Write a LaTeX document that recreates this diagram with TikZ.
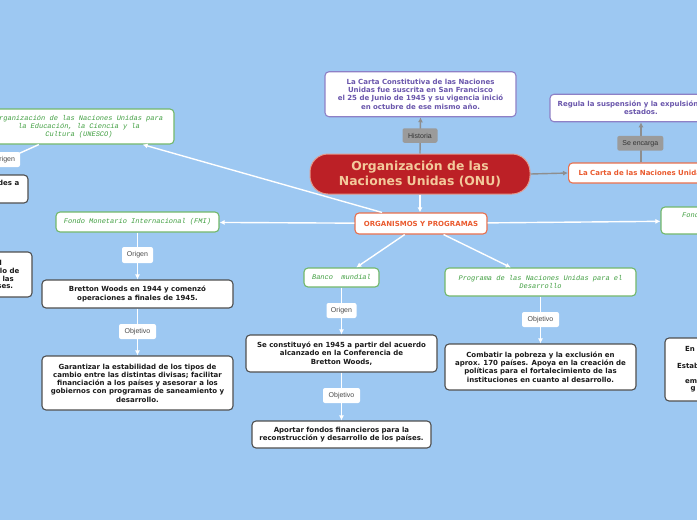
\documentclass[tikz,border=0pt]{standalone}
\usepackage{fontspec}
\setmainfont{DejaVu Sans}
\newfontfamily\gmono{Liberation Mono}
\newfontfamily\labfont{Liberation Sans}
\usetikzlibrary{arrows.meta,calc}
\definecolor{bg}{HTML}{9DC8F2}
\definecolor{onured}{HTML}{BC2026}
\definecolor{onutext}{HTML}{F3C99B}
\definecolor{onuborder}{HTML}{E39A8C}
\definecolor{purpleborder}{HTML}{8E80C6}
\definecolor{purpletext}{HTML}{6A56AC}
\definecolor{orangeborder}{HTML}{E8704D}
\definecolor{orangetext}{HTML}{EA5A2E}
\definecolor{greenborder}{HTML}{72B86B}
\definecolor{greentext}{HTML}{3F9E3F}
\definecolor{darkborder}{HTML}{4F4F4F}
\definecolor{graylab}{HTML}{9B9B9B}
\definecolor{grayline}{HTML}{8E8E8E}
\definecolor{bodytext}{HTML}{1A1A1A}
\tikzset{
 mmbox/.style={draw=darkborder, line width=1.1pt, fill=white, rounded corners=4pt, inner sep=0pt, align=center, font=\fontsize{7}{8.3}\selectfont\bfseries, text=bodytext},
 mmfrag/.style={inner sep=0pt, font=\fontsize{7}{8.3}\selectfont\bfseries, text=bodytext},
 mmgbox/.style={draw=greenborder, line width=1.1pt, fill=white, rounded corners=4pt, inner sep=0pt, align=center, font=\gmono\itshape\fontsize{7}{7.8}\selectfont, text=greentext},
 mmpbox/.style={mmbox, draw=purpleborder, text=purpletext},
 mmobox/.style={mmbox, draw=orangeborder, text=orangetext},
 mmwlab/.style={fill=white, rounded corners=2pt, inner sep=0pt, font=\labfont\fontsize{7}{8}\selectfont, text=black!70},
 mmglab/.style={fill=graylab, rounded corners=2pt, inner sep=0pt, font=\labfont\fontsize{7}{8}\selectfont, text=black!80},
 mmwline/.style={draw=white, line width=1.4pt, -{Latex[length=5pt,width=5pt]}},
 mmgline/.style={draw=grayline, line width=1.4pt, -{Latex[length=5pt,width=5pt]}},
}
\begin{document}
\begin{tikzpicture}[x=1pt,y=-1pt]
\useasboundingbox (0,0) rectangle (697,520);
\clip (0,0) rectangle (697,520);
\fill[bg] (0,0) rectangle (697,520);

% main nodes
\node[draw=onuborder, line width=1pt, fill=onured, rounded corners=18pt, minimum width=220pt, minimum height=40pt, inner sep=0pt, align=center, text=onutext, font=\fontsize{12.4}{15.4}\selectfont\bfseries] (onu) at (420,174) {Organización de las\\Naciones Unidas (ONU)};
\node[mmpbox, minimum width=191pt, minimum height=45pt] (cartac) at (420.5,94.2) {La Carta Constitutiva de las Naciones\\Unidas fue suscrita en San Francisco\\el 25 de Junio de 1945 y su vigencia inició\\en octubre de ese mismo año.};
\node[mmobox, minimum width=132pt, minimum height=21pt] (org) at (421,223.5) {ORGANISMOS Y PROGRAMAS};
\node[mmobox, anchor=west, inner xsep=10pt, minimum height=20pt] (cartanu) at (568,173) {La Carta de las Naciones Unidas};
\node[mmpbox, minimum width=182pt, minimum height=27.5pt] (regula) at (641,108) {Regula la suspensión y la expulsión de los\\estados.};

\node[mmgbox, minimum width=190pt, minimum height=35pt] (unesco) at (79,126.5) {Organización de las Naciones Unidas para\\la Educación, la Ciencia y la\\Cultura (UNESCO)};
\node[mmbox, minimum width=176pt, minimum height=28pt] (unchild) at (-60,189) {};
\node[mmfrag, anchor=east] (fr1) at (19.5,183) {des a};
\node[mmbox, minimum width=180pt, minimum height=45pt] (hidden2) at (-58,274.5) {};
\node[mmfrag, anchor=east] (fr2) at (2,263) {d};
\node[mmfrag, anchor=east] (fr3) at (19.5,271) {llo de};
\node[mmfrag, anchor=east] (fr4) at (14,279) {r las};
\node[mmfrag, anchor=east] (fr5) at (13.3,287) {ses.};

\node[mmgbox, minimum width=163pt, minimum height=20pt] (fmi) at (137.5,222) {Fondo Monetario Internacional (FMI)};
\node[mmbox, minimum width=191pt, minimum height=28pt] (bretton) at (137.5,294) {Bretton Woods en 1944 y comenzó\\operaciones a finales de 1945.};
\node[mmbox, minimum width=191pt, minimum height=54pt] (garant) at (137.5,383) {Garantizar la estabilidad de los tipos de\\cambio entre las distintas divisas; facilitar\\financiación a los países y asesorar a los\\gobiernos con programas de saneamiento y\\desarrollo.};

\node[mmgbox, minimum width=75pt, minimum height=19pt] (banco) at (341.5,277.5) {Banco\ \ mundial};
\node[mmbox, minimum width=191pt, minimum height=37pt] (constit) at (341.5,353.5) {Se constituyó en 1945 a partir del acuerdo\\alcanzado en la Conferencia de\\Bretton Woods,};
\node[mmbox, minimum width=179pt, minimum height=27pt] (aportar) at (341.5,434.5) {Aportar fondos financieros para la\\reconstrucción y desarrollo de los países.};

\node[mmgbox, minimum width=191pt, minimum height=28pt] (pnud) at (540.5,282) {Programa de las Naciones Unidas para el\\Desarrollo};
\node[mmbox, minimum width=191pt, minimum height=46pt] (combatir) at (540.5,367) {Combatir la pobreza y la exclusión en\\aprox. 170 países. Apoya en la creación de\\políticas para el fortalecimiento de las\\instituciones en cuanto al desarrollo.};

\node[mmgbox, minimum width=180pt, minimum height=27pt] (fondo) at (751,220.5) {};
\node[inner sep=0pt, anchor=west, font=\gmono\itshape\fontsize{7}{7.8}\selectfont, text=greentext] (fr6) at (682,215) {Fondo};
\node[mmbox, minimum width=170pt, minimum height=63pt] (rbox) at (750,369.5) {};
\node[mmfrag, anchor=west] (fr7) at (685,349) {En};
\node[mmfrag, anchor=west] (fr8) at (677,365.5) {Estab};
\node[mmfrag, anchor=west] (fr9) at (685,381.5) {em};
\node[mmfrag, anchor=west] (fr10) at (690.5,389.5) {g};

% connectors
\draw[mmgline] (onu.north) -- (cartac.south);
\draw[mmgline] (onu.east) -- (cartanu.west);
\draw[mmgline] (cartanu.north -| regula.south) -- (regula.south);
\draw[mmwline] (onu.south) -- (onu.south |- org.north);
\draw[mmwline] (org) -- (fmi);
\draw[mmwline] (org) -- (unesco);
\draw[mmwline] (org) -- (fondo);
\draw[mmwline] (org) -- (banco);
\draw[mmwline] (org) -- (pnud);
\draw[mmwline] (unesco) -- (unchild);
\draw[mmwline] (fmi.south) -- (bretton.north);
\draw[mmwline] (bretton.south) -- (garant.north);
\draw[mmwline] (banco.south) -- (constit.north);
\draw[mmwline] (constit.south) -- (aportar.north);
\draw[mmwline] (pnud.south) -- (combatir.north);

% labels
\node[mmglab, minimum width=35pt, minimum height=14.5pt] (lhist) at (420,135.5) {Historia};
\node[mmglab, minimum width=46pt, minimum height=14.7pt] (lsenc) at (640.3,143.3) {Se encarga};
\node[mmwlab, minimum width=31pt, minimum height=15pt] (lor0) at (4.5,159.5) {Origen};
\node[mmwlab, minimum width=31pt, minimum height=16pt] (lor1) at (137.5,255) {Origen};
\node[mmwlab, minimum width=37pt, minimum height=15pt] (lob1) at (137.5,331.5) {Objetivo};
\node[mmwlab, minimum width=30pt, minimum height=15pt] (lor2) at (341.5,310.5) {Origen};
\node[mmwlab, minimum width=37pt, minimum height=15pt] (lob2) at (341.5,395.5) {Objetivo};
\node[mmwlab, minimum width=37pt, minimum height=15pt] (lob3) at (540.5,319.5) {Objetivo};
\end{tikzpicture}
\end{document}
